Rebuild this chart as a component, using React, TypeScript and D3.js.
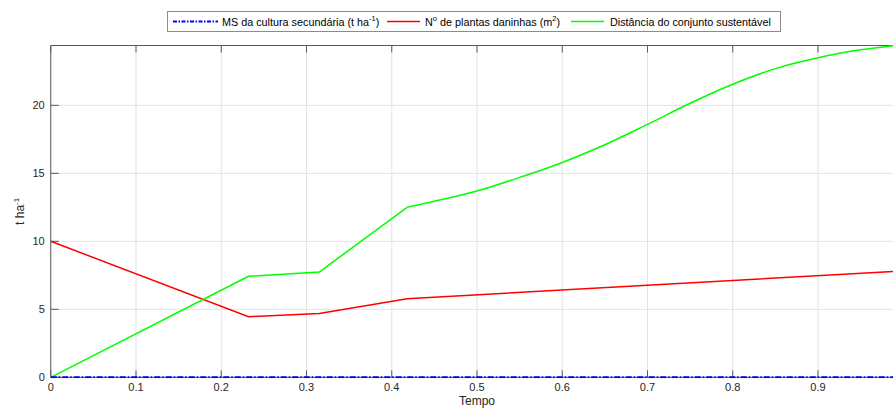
import React from "react";
import * as d3 from "d3";

// Time axis (fraction of the period) and series values
const redTimes = [0, 0.232, 0.315, 0.418, 1.0];
const redValues = [10, 4.46, 4.7, 5.78, 7.83];

const greenTimesA = [0, 0.232, 0.315, 0.418];
const greenValuesA = [0, 7.43, 7.74, 12.5];
const greenTimesB = [0.418, 0.45, 0.5, 0.55, 0.6, 0.65, 0.7, 0.75, 0.8, 0.85, 0.9, 0.95, 0.99];
const greenValuesB = [12.5, 12.95, 13.7, 14.7, 15.8, 17.1, 18.6, 20.15, 21.55, 22.7, 23.5, 24.08, 24.4];

const blueTimes = [0, 1];
const blueValues = [0, 0];

const xTicks = [0, 0.1, 0.2, 0.3, 0.4, 0.5, 0.6, 0.7, 0.8, 0.9];
const yTicks = [0, 5, 10, 15, 20];

const W = 893;
const H = 410;
const FONT = "'Liberation Sans', Arial, Helvetica, sans-serif";

type P = [number, number];
const zip = (xs: number[], ys: number[]): P[] => xs.map((x, i) => [x, ys[i]]);

export default function App() {
  const left = 50.75;
  const top = 45.5;
  const bottom = 377.3;
  const x = d3.scaleLinear().domain([0, 1]).range([left, 903.25]);
  const y = d3.scaleLinear().domain([0, 24.4]).range([bottom, top]);

  const lin = d3.line<P>().x((d) => x(d[0])).y((d) => y(d[1])).curve(d3.curveLinear);
  const smooth = d3
    .line<P>()
    .x((d) => x(d[0]))
    .y((d) => y(d[1]))
    .curve(d3.curveCatmullRom.alpha(0.5));

  const red = lin(zip(redTimes, redValues)) || "";
  const greenA = lin(zip(greenTimesA, greenValuesA)) || "";
  const greenB = smooth(zip(greenTimesB, greenValuesB)) || "";
  const blue = lin(zip(blueTimes, blueValues)) || "";

  const axisColor = "#5a5a5a";
  const gridColor = "#e3e3e3";
  const textColor = "#262626";
  const right = x(1);

  return (
    <svg
      width={W}
      height={H}
      style={{ position: "absolute", left: 0, top: 0, background: "#fff" }}
      fontFamily={FONT}
    >
      <defs>
        <clipPath id="plotClip">
          <rect x={left} y={top - 1} width={right - left} height={bottom - top + 2} />
        </clipPath>
      </defs>
      <rect x={0} y={0} width={W} height={H} fill="#fff" />

      {/* grid */}
      {xTicks.map((t) => (
        <line key={"gx" + t} x1={x(t)} x2={x(t)} y1={top} y2={bottom} stroke={gridColor} strokeWidth={1} />
      ))}
      {yTicks.map((t) => (
        <line key={"gy" + t} x1={left} x2={right} y1={y(t)} y2={y(t)} stroke={gridColor} strokeWidth={1} />
      ))}

      {/* axes frame */}
      <line x1={left} x2={left} y1={top} y2={bottom} stroke={axisColor} strokeWidth={1} />
      <line x1={left} x2={right} y1={bottom} y2={bottom} stroke={axisColor} strokeWidth={1} />
      <line x1={left} x2={right} y1={top} y2={top} stroke={axisColor} strokeWidth={1} />

      {/* ticks */}
      {xTicks.map((t) => (
        <g key={"tx" + t}>
          <line x1={x(t)} x2={x(t)} y1={bottom} y2={bottom - 7} stroke={axisColor} />
          <line x1={x(t)} x2={x(t)} y1={top} y2={top + 7} stroke={axisColor} />
          <text x={x(t)} y={bottom + 14} textAnchor="middle" fontSize={11} fill={textColor}>
            {String(t)}
          </text>
        </g>
      ))}
      {yTicks.map((t) => (
        <g key={"ty" + t}>
          <line x1={left} x2={left + 8} y1={y(t)} y2={y(t)} stroke={axisColor} />
          <text x={left - 6} y={y(t) + 4} textAnchor="end" fontSize={11} fill={textColor}>
            {String(t)}
          </text>
        </g>
      ))}

      {/* axis labels */}
      <text x={x(0.5)} y={bottom + 28} textAnchor="middle" fontSize={12} fill={textColor}>
        Tempo
      </text>
      <text
        transform={`translate(24, ${(top + bottom) / 2}) rotate(-90)`}
        textAnchor="middle"
        fontSize={12}
        fill={textColor}
      >
        t ha
        <tspan dy={-5} fontSize={8}>-1</tspan>
      </text>

      {/* series */}
      <g clipPath="url(#plotClip)" fill="none">
        <path d={red} stroke="#ff0000" strokeWidth={1.5} />
        <path d={greenA} stroke="#00ff00" strokeWidth={1.5} strokeLinejoin="round" />
        <path d={greenB} stroke="#00ff00" strokeWidth={1.5} />
        <path d={blue} stroke="#0000ff" strokeWidth={2} strokeDasharray="6,2,1.5,2" />
      </g>

      {/* legend */}
      <g>
        <rect x={167.5} y={11.5} width={613} height={20} fill="#fff" stroke="#8c8c8c" strokeWidth={1} />
        <line x1={173} x2={218} y1={21.5} y2={21.5} stroke="#0000ff" strokeWidth={2} strokeDasharray="4,1.5,1.5,1.5" />
        <text x={222} y={25.5} fontSize={10.8} fill="#000">
          MS da cultura secundária (t ha
          <tspan dy={-5} fontSize={7.5}>-1</tspan>
          <tspan dy={5}>)</tspan>
        </text>
        <line x1={387} x2={420} y1={21.5} y2={21.5} stroke="#ff0000" strokeWidth={1.5} />
        <text x={425} y={25.5} fontSize={10.8} fill="#000">
          N
          <tspan dy={-5} fontSize={7.5}>o</tspan>
          <tspan dy={5}> de plantas daninhas (m</tspan>
          <tspan dy={-5} fontSize={7.5}>2</tspan>
          <tspan dy={5}>)</tspan>
        </text>
        <line x1={571} x2={604} y1={21.5} y2={21.5} stroke="#00ff00" strokeWidth={1.5} />
        <text x={610} y={25.5} fontSize={10.8} fill="#000">
          Distância do conjunto sustentável
        </text>
      </g>
    </svg>
  );
}
